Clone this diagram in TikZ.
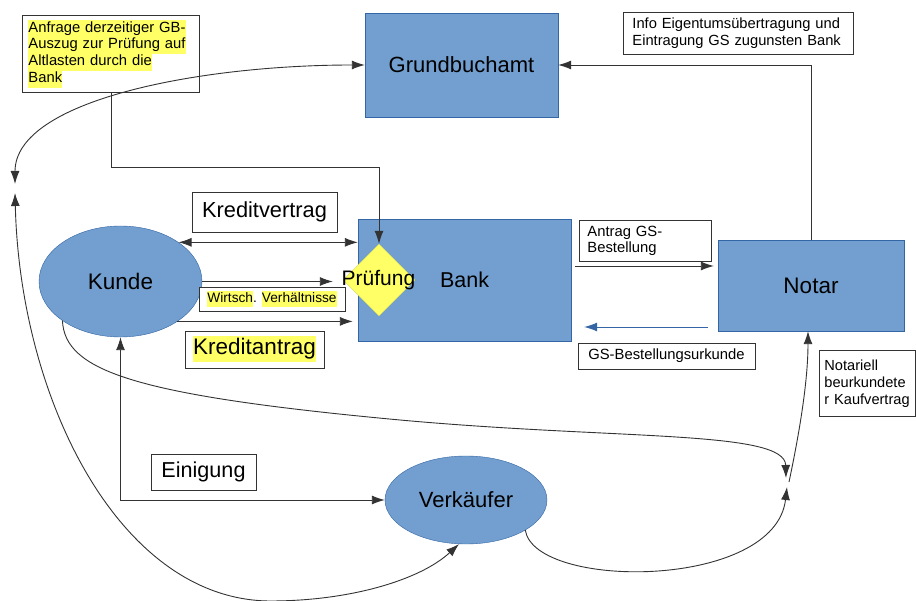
\documentclass[tikz,border=0pt]{standalone}
\usepackage{fontspec}
\setmainfont{Liberation Sans}
\usetikzlibrary{shapes.geometric,arrows.meta}
\definecolor{amtblau}{HTML}{729FCF}
\definecolor{randblau}{HTML}{3465A4}
\definecolor{markgelb}{HTML}{FFFF66}
\definecolor{strich}{HTML}{333333}
\newcommand{\fz}[2]{\fontsize{#1}{#2}\selectfont}
\newcommand{\gelb}[1]{{\setlength{\fboxsep}{0pt}\colorbox{markgelb}{\strut #1}}}
\tikzset{
  amt/.style={rectangle, fill=amtblau, draw=randblau, font=\fz{22}{26}},
  person/.style={ellipse, fill=amtblau, draw=randblau, font=\fz{22}{26}},
  notiz/.style={rectangle, draw=strich, line width=0.9pt, fill=white, align=left},
  pfeil/.style={-{Latex[length=13pt,width=9pt]}, draw=strich, line width=0.9pt},
  dpfeil/.style={{Latex[length=13pt,width=9pt]}-{Latex[length=13pt,width=9pt]}, draw=strich, line width=0.9pt}
}
\begin{document}
\begin{tikzpicture}[x=1pt,y=-1pt]
\useasboundingbox (0,0) rectangle (916,601);
% Stellen
\node[amt, minimum width=193, minimum height=104] (gba) at (461.5,65) {Grundbuchamt};
\node[amt, minimum width=213, minimum height=122, font=\fz{21.5}{25}] (bank) at (464.5,280) {Bank};
\node[amt, minimum width=186, minimum height=91, font=\fz{22.5}{26}] (notar) at (811,285.5) {Notar};
\node[person, minimum width=163, minimum height=111, font=\fz{22.5}{26}] (kunde) at (120.5,281.5) {Kunde};
\node[person, minimum width=162, minimum height=88] (verk) at (466,500) {Verkäufer};
\node[diamond, fill=markgelb, draw=markgelb!85!black, line width=0.4pt, minimum width=72, minimum height=72, inner sep=0pt] (pruef) at (379,280) {};
\node[font=\fz{21}{25}] (pruef-t) at (378.5,280) {Prüfung};
% Notizen
\node[notiz, anchor=north west, text width=165, inner xsep=6, inner ysep=2, minimum height=77, font=\fz{14.8}{16.8}] (anfrage) at (22,15)
  {\gelb{Anfrage derzeitiger GB-}\\\gelb{Auszug zur Prüfung auf}\\\gelb{Altlasten durch die}\\\gelb{Bank}};
\node[notiz, anchor=north west, text width=212, inner xsep=9, inner ysep=3, minimum height=42, font=\fz{14.7}{17}] (info) at (623,12)
  {Info Eigentumsübertragung und\\Eintragung GS zugunsten Bank};
\node[notiz, minimum width=145, minimum height=40, font=\fz{21.8}{25}] (kv) at (264.5,212) {Kreditvertrag};
\node[notiz, minimum width=146, minimum height=24, inner sep=0pt, font=\fz{13.7}{16}] (wv) at (272,299) {\gelb{Wirtsch}. \gelb{Verhältnisse}};
\node[notiz, minimum width=139, minimum height=37, inner sep=0pt, font=\fz{22.5}{26}] (ka) at (254.5,349.5) {\gelb{Kreditantrag}};
\node[notiz, anchor=north west, text width=116, inner xsep=8, inner ysep=3, minimum height=41, font=\fz{14.8}{16.5}] (antrag) at (579,220)
  {Antrag GS-\\Bestellung};
\node[notiz, minimum width=177, minimum height=26, font=\fz{14.8}{17}] (urk) at (666.5,356) {GS-Bestellungsurkunde};
\node[notiz, anchor=north west, text width=86, inner xsep=5, inner ysep=3, minimum height=66, font=\fz{14.6}{17}] (kauf) at (819,350)
  {Notariell\\beurkundete\\r Kaufvertrag};
\node[notiz, minimum width=105, minimum height=36, font=\fz{21.6}{25}] (einig) at (203.5,472) {Einigung};
% freie Enden
\coordinate (lo) at (15,184);
\coordinate (lu) at (15,193);
\coordinate (ja) at (786,478);
\coordinate (jb) at (787,487);
\coordinate (jm) at (789,482);
% Verbindungen
\draw[pfeil] (anfrage.south) -- ++(0,75) -| (pruef.north);
\draw[pfeil] (notar.north) |- (gba.east);
\draw[dpfeil] (kunde.34) -- (kunde.34 -| bank.west);
\draw[pfeil, shorten >=10pt] (kunde.east) -- (kunde.east -| pruef.west);
\draw[pfeil, shorten >=5pt] (kunde.-35) -- (kunde.-35 -| bank.west);
\draw[pfeil, shorten <=4pt, shorten >=4pt] ([yshift=14pt]bank.east) -- ([yshift=14pt]bank.east -| notar.west);
\draw[pfeil, draw=randblau, -{Latex[length=13pt,width=9pt,fill=randblau]}, shorten <=10pt, shorten >=13pt]
  ([yshift=-47pt]bank.east -| notar.west) -- ([yshift=-47pt]bank.east);
\draw[dpfeil] (kunde.south) |- (verk.west);
\draw[dpfeil] (gba.west) .. controls (200,65) and (15,100) .. (lo);
\draw[dpfeil] (lu) .. controls (20,400) and (120,600) .. (270,601) .. controls (350,601) and (420,580) .. (verk.-99);
\draw[pfeil] (kunde.-146) .. controls (65,370) and (130,395) .. (400,420) .. controls (620,440) and (785,430) .. (ja);
\draw[pfeil] (verk.-27) .. controls (535,590) and (775,590) .. (jb);
\draw[pfeil] (jm) .. controls (800,430) and (808,380) .. ([xshift=-3pt]notar.south);
\end{tikzpicture}
\end{document}
